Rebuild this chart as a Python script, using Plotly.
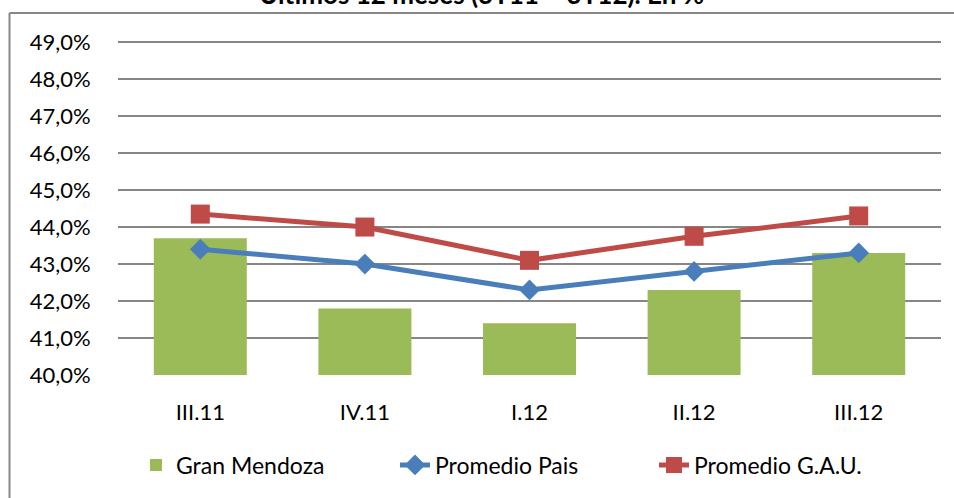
import plotly.graph_objects as go

categories = ["III.11", "IV.11", "I.12", "II.12", "III.12"]
gran_mendoza = [43.7, 41.8, 41.4, 42.3, 43.3]
promedio_pais = [43.4, 43.0, 42.3, 42.8, 43.3]
promedio_gau = [44.35, 44.0, 43.1, 43.75, 44.3]
y_ticks = [40, 41, 42, 43, 44, 45, 46, 47, 48, 49]
y_tick_labels = [f"{v},0%" for v in y_ticks]
title_text = "Últimos 12 meses (3T11 – 3T12). En %"

FONT = "Lato"
W, H = 954, 498
L, R, T, B = 118, 13, 41, 123
pw, ph = W - L - R, H - T - B

def px_to_paper_x(px):
    return (px - L) / pw

def px_to_paper_y(py):
    return 1 + (T - py) / ph

fig = go.Figure()
fig.add_trace(go.Bar(
    x=categories, y=[v - 40 for v in gran_mendoza], base=40,
    name="Gran Mendoza", marker=dict(color="#9BBB59", line=dict(width=0)),
))
fig.add_trace(go.Scatter(
    x=categories, y=promedio_pais, name="Promedio Pais", mode="lines+markers",
    line=dict(color="#4A7EBB", width=5),
    marker=dict(symbol="diamond", size=16, color="#4A7EBB"),
))
fig.add_trace(go.Scatter(
    x=categories, y=promedio_gau, name="Promedio G.A.U.", mode="lines+markers",
    line=dict(color="#BE4B48", width=5),
    marker=dict(symbol="square", size=19, color="#BE4B48"),
))

fig.update_layout(
    width=W, height=H,
    margin=dict(l=L, r=R, t=T, b=B, pad=0),
    paper_bgcolor="white", plot_bgcolor="white",
    font=dict(family=FONT, size=22, color="black"),
    bargap=0.435,
    showlegend=True,
    legend=dict(
        orientation="h", x=px_to_paper_x(136), xanchor="left",
        y=px_to_paper_y(465), yanchor="middle",
        font=dict(family=FONT, size=23, color="black"),
        entrywidth=214, entrywidthmode="pixels",
        traceorder="normal", bgcolor="rgba(0,0,0,0)",
    ),
    xaxis=dict(
        showgrid=False, showline=False, zeroline=False,
        ticks="outside", ticklen=18, tickcolor="rgba(0,0,0,0)",
        tickfont=dict(family=FONT, size=22),
    ),
    yaxis=dict(
        range=[40, 49.03], tickvals=y_ticks, ticktext=y_tick_labels,
        showgrid=True, gridcolor="#868686", gridwidth=1.5,
        zeroline=False, showline=False,
        ticks="outside", ticklen=22, tickcolor="rgba(0,0,0,0)",
        tickfont=dict(family=FONT, size=22),
    ),
    shapes=[
        dict(type="line", xref="paper", yref="paper",
             x0=px_to_paper_x(9.5), x1=px_to_paper_x(960),
             y0=px_to_paper_y(13), y1=px_to_paper_y(13),
             line=dict(color="#878787", width=2)),
        dict(type="line", xref="paper", yref="paper",
             x0=px_to_paper_x(9.5), x1=px_to_paper_x(9.5),
             y0=px_to_paper_y(13), y1=px_to_paper_y(505),
             line=dict(color="#878787", width=2)),
    ],
    annotations=[
        dict(text="<b>" + title_text + "</b>", xref="paper", yref="paper",
             x=px_to_paper_x(481), xanchor="center",
             y=px_to_paper_y(12), yanchor="bottom", showarrow=False,
             font=dict(family=FONT, size=26, color="black")),
    ],
)

fig.write_html(
    "out.html",
    config={"displayModeBar": False},
    post_script="document.body.style.margin='0';document.body.style.padding='0';",
)
